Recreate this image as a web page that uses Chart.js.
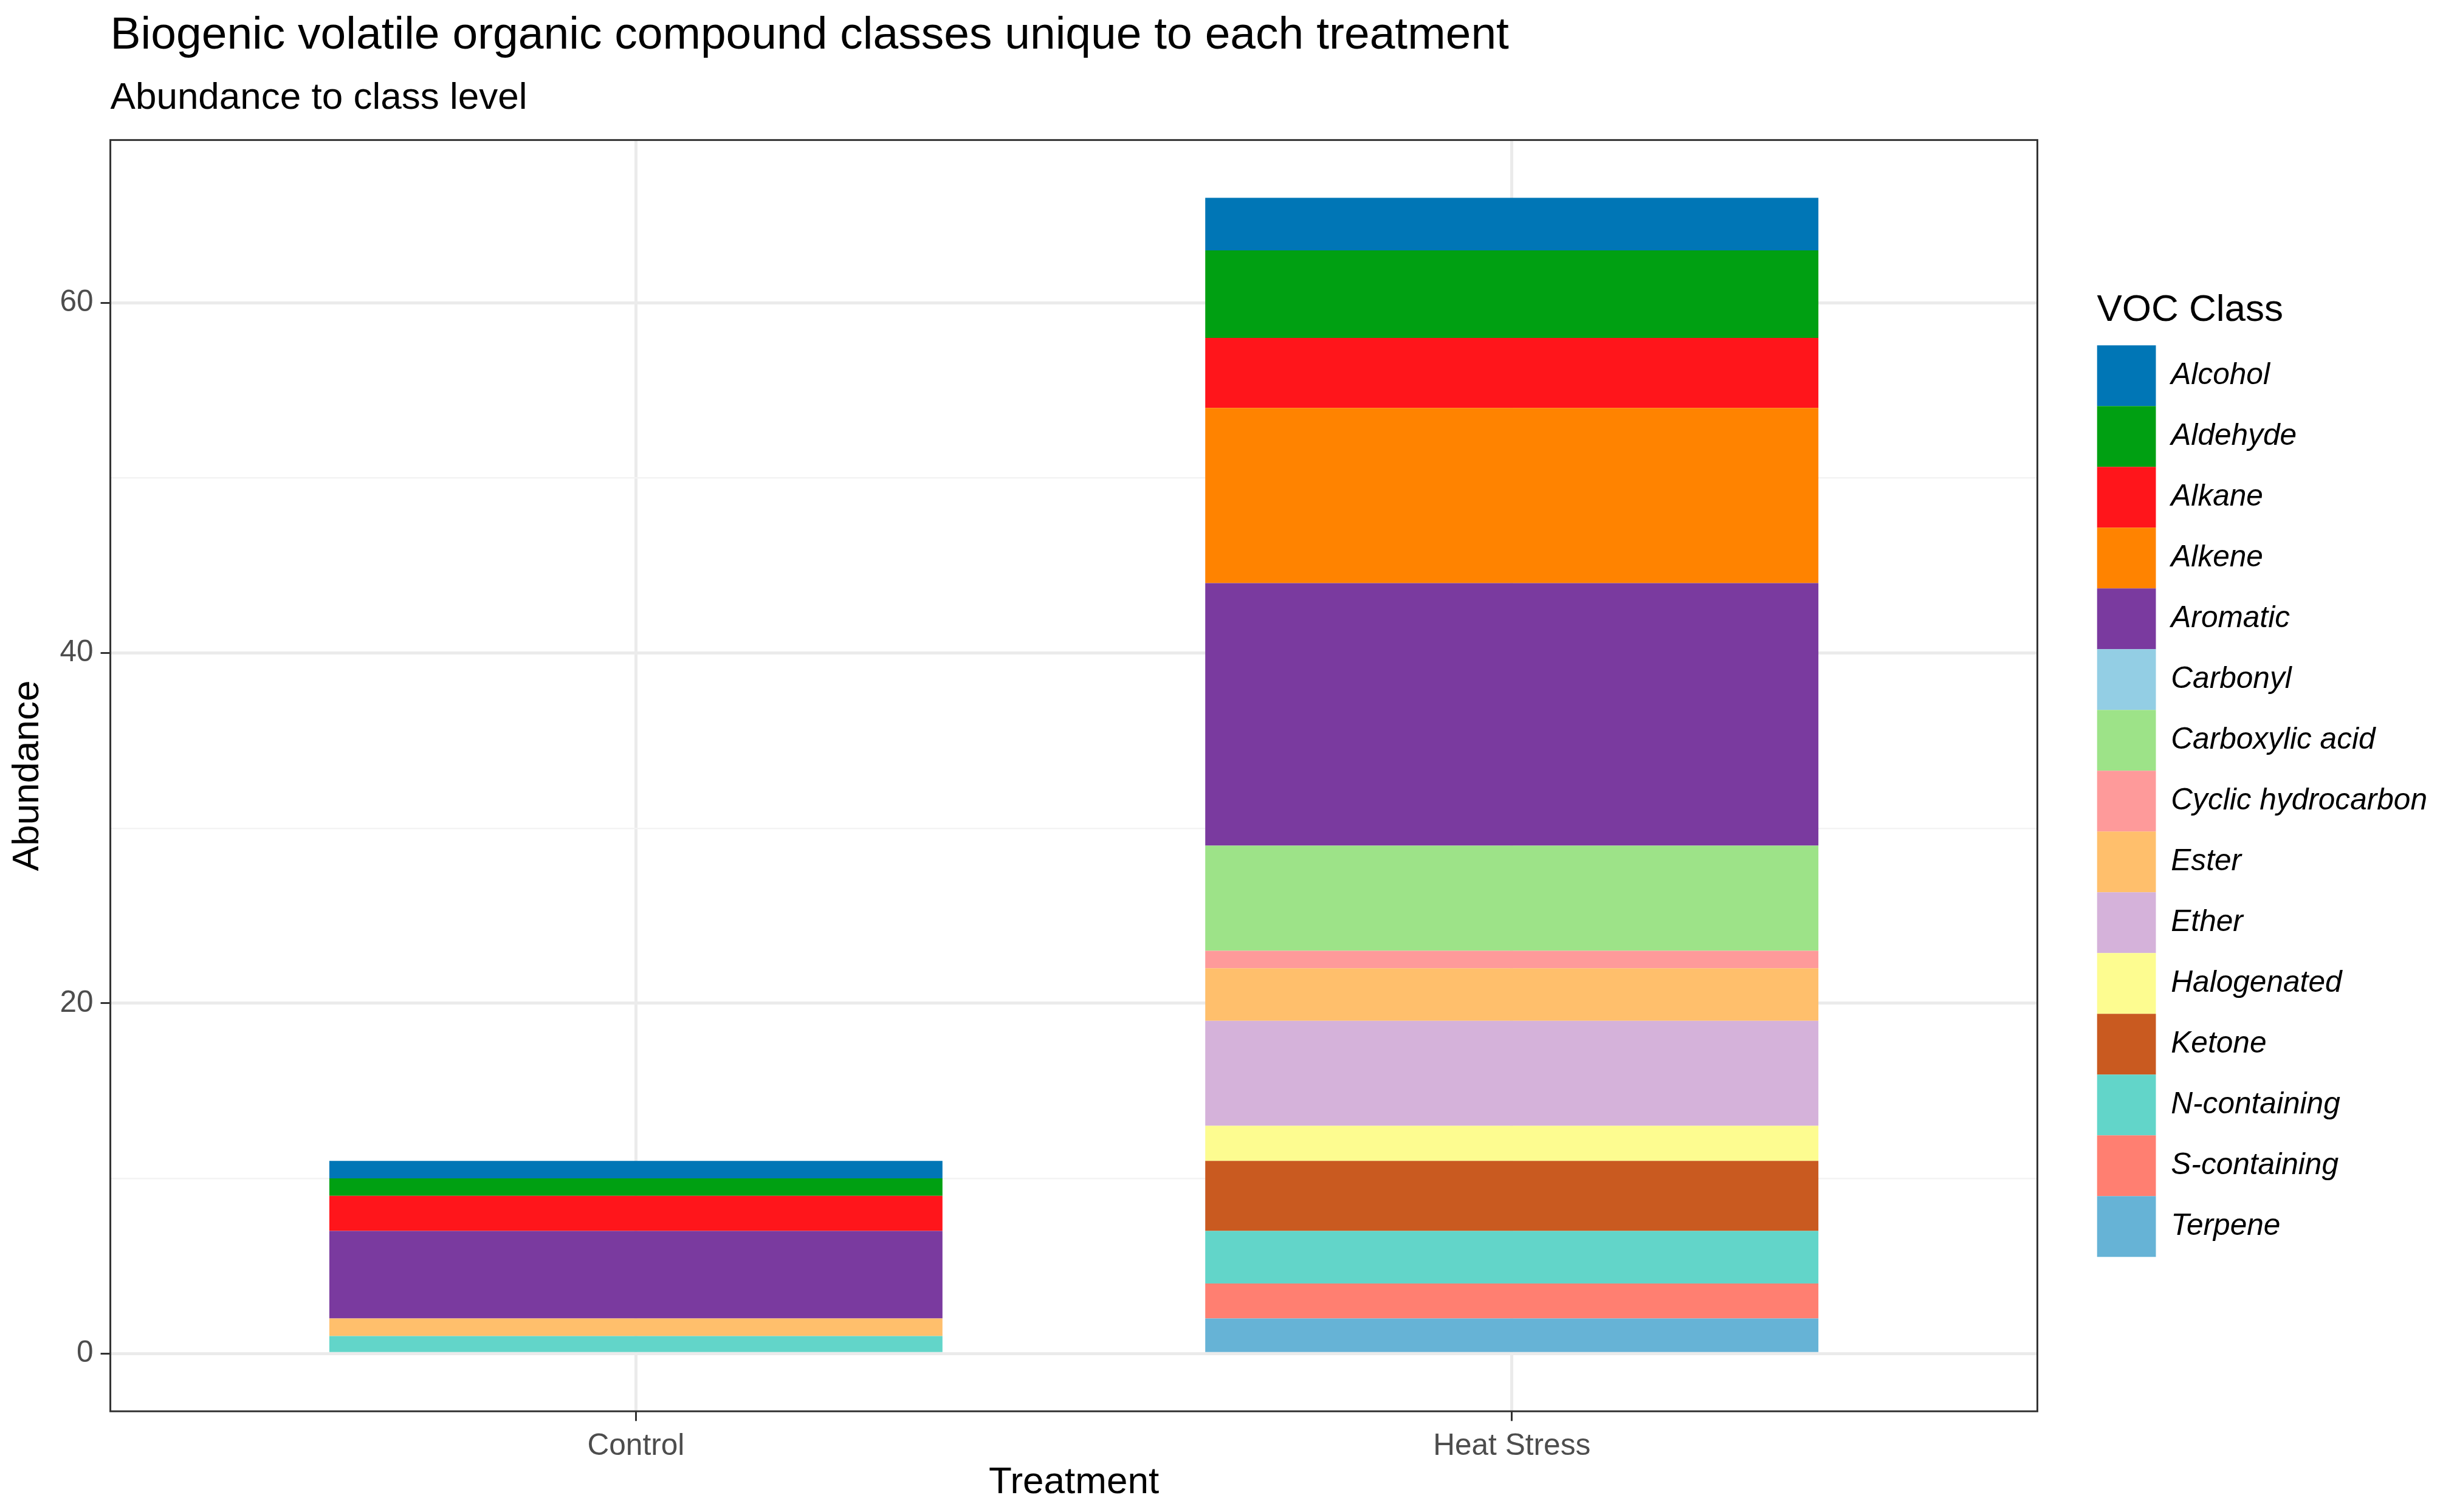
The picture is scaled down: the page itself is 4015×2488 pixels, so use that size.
<!DOCTYPE html>
<html>
<head>
<meta charset="utf-8">
<title>VOC classes by treatment</title>
<script src="https://cdn.jsdelivr.net/npm/chart.js@4.4.1/dist/chart.umd.min.js"></script>
<style>
  html, body { margin: 0; padding: 0; background: #fff; overflow: hidden; }
  canvas { display: block; }
</style>
</head>
<body>
<canvas id="vocChart" width="4015" height="2488"></canvas>
<script>
// data
const treatments = ['Control', 'Heat Stress'];

const vocClasses = [
  'Alcohol', 'Aldehyde', 'Alkane', 'Alkene', 'Aromatic', 'Carbonyl',
  'Carboxylic acid', 'Cyclic hydrocarbon', 'Ester', 'Ether', 'Halogenated',
  'Ketone', 'N-containing', 'S-containing', 'Terpene'
];

const controlValues    = [1, 1, 2, 0, 5, 0, 0, 0, 1, 0, 0, 0, 1, 0, 0];
const heatStressValues = [3, 5, 4, 10, 15, 0, 6, 1, 3, 6, 2, 4, 3, 2, 2];

const classColors = [
  '#0076B6', '#00A012', '#FF151B', '#FF8300', '#7A3A9F', '#93CEE4',
  '#9DE388', '#FE9A9A', '#FFBF6C', '#D5B2DA', '#FDFC90',
  '#C95A20', '#62D5C9', '#FF7F71', '#66B3D6'
];

const FONT = '"Liberation Sans", Arial, Helvetica, sans-serif';
Chart.defaults.font.family = FONT;

// ggplot stacks the first level on top, chart.js stacks the first dataset at the bottom
const datasets = vocClasses.map((name, i) => ({
  label: name,
  data: [
    { x: 1, y: controlValues[i] },
    { x: 2, y: heatStressValues[i] }
  ],
  backgroundColor: classColors[i],
  borderWidth: 0,
  barPercentage: 0.7,
  categoryPercentage: 1
})).reverse();

// frame round the panel, like theme_bw
const panelBorder = {
  id: 'panelBorder',
  afterDatasetsDraw(chart) {
    const { ctx, chartArea: a } = chart;
    ctx.save();
    ctx.strokeStyle = '#333333';
    ctx.lineWidth = 3;
    ctx.strokeRect(a.left, a.top, a.right - a.left, a.bottom - a.top);
    ctx.restore();
  }
};

const isMajor = v => v % 20 === 0;

new Chart(document.getElementById('vocChart'), {
  type: 'bar',
  data: { datasets },
  plugins: [panelBorder],
  options: {
    responsive: false,
    devicePixelRatio: 1,
    animation: false,
    layout: { padding: { left: 9, right: 11, top: 0, bottom: 0 } },
    plugins: {
      tooltip: { enabled: false },
      title: {
        display: true,
        text: 'Biogenic volatile organic compound classes unique to each treatment',
        align: 'start',
        fullSize: false,
        color: '#000',
        font: { size: 75, weight: 'normal' },
        padding: { top: 14, bottom: 21 }
      },
      subtitle: {
        display: true,
        text: 'Abundance to class level',
        align: 'start',
        fullSize: false,
        color: '#000',
        font: { size: 62 },
        padding: { top: 0, bottom: 31 }
      },
      legend: {
        position: 'right',
        align: 'center',
        reverse: true,
        title: {
          display: true,
          text: 'VOC Class',
          position: 'start',
          color: '#000',
          font: { size: 62 },
          padding: { top: 60, bottom: 14 }
        },
        labels: {
          boxWidth: 97,
          boxHeight: 100,
          padding: 0,
          color: '#000',
          font: { size: 49.6, style: 'italic' }
        }
      }
    },
    scales: {
      x: {
        type: 'linear',
        stacked: true,
        offset: false,
        min: 0.4,
        max: 2.6,
        afterBuildTicks: axis => {
          axis.ticks = treatments.map((t, i) => ({ value: i + 1 }));
        },
        ticks: {
          autoSkip: false,
          maxRotation: 0,
          padding: 12,
          color: '#4D4D4D',
          font: { size: 49.6 },
          callback: v => treatments[v - 1]
        },
        grid: {
          offset: false,
          color: '#EBEBEB',
          lineWidth: 5,
          tickColor: '#333333',
          tickWidth: 3,
          tickLength: 16
        },
        border: { display: false },
        title: {
          display: true,
          text: 'Treatment',
          color: '#000',
          font: { size: 62, lineHeight: 1.1 },
          padding: { top: -16, bottom: 14 }
        }
      },
      y: {
        stacked: true,
        min: -3.3,
        max: 69.3,
        ticks: {
          stepSize: 10,
          includeBounds: false,
          padding: 12,
          color: '#4D4D4D',
          font: { size: 49.6 },
          callback: v => (isMajor(v) ? v : '')
        },
        grid: {
          color: ctx => (isMajor(ctx.tick.value) ? '#EBEBEB' : '#F3F3F3'),
          lineWidth: ctx => (isMajor(ctx.tick.value) ? 5 : 2.5),
          tickColor: ctx => (isMajor(ctx.tick.value) ? '#333333' : 'rgba(0,0,0,0)'),
          tickWidth: 3,
          tickLength: 16
        },
        border: { display: false },
        title: {
          display: true,
          text: 'Abundance',
          color: '#000',
          font: { size: 62 },
          padding: { top: 0, bottom: 3 }
        }
      },
      // empty axis, only keeps the gap between panel and legend
      gap: {
        type: 'linear',
        position: 'right',
        display: true,
        ticks: { display: false },
        grid: { display: false },
        border: { display: false },
        afterFit: scale => { scale.width = 98; }
      }
    }
  }
});
</script>
</body>
</html>
